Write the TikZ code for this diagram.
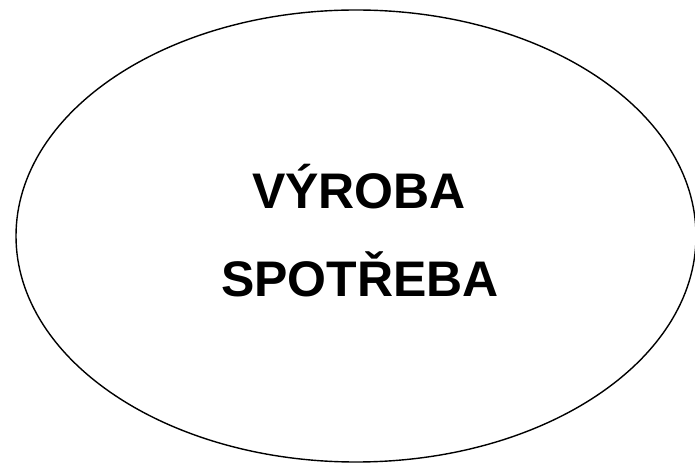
\documentclass[tikz,border=0pt]{standalone}
\usepackage{fontspec}
\setmainfont{Liberation Sans}
\tikzset{
  outline/.style={draw=black, line width=1.4pt},
  label/.style={font=\fontsize{50}{58}\selectfont\bfseries, anchor=base, inner sep=0pt}
}
\begin{document}
\begin{tikzpicture}[x=1pt,y=1pt]
\useasboundingbox (0,0) rectangle (695,463);
\draw[outline] (356,227) ellipse [x radius=340, y radius=226];
\node[label] (v) at (359,254) {VÝROBA};
\node[label] (s) at (360,166) {SPOTŘEBA};
\end{tikzpicture}
\end{document}
